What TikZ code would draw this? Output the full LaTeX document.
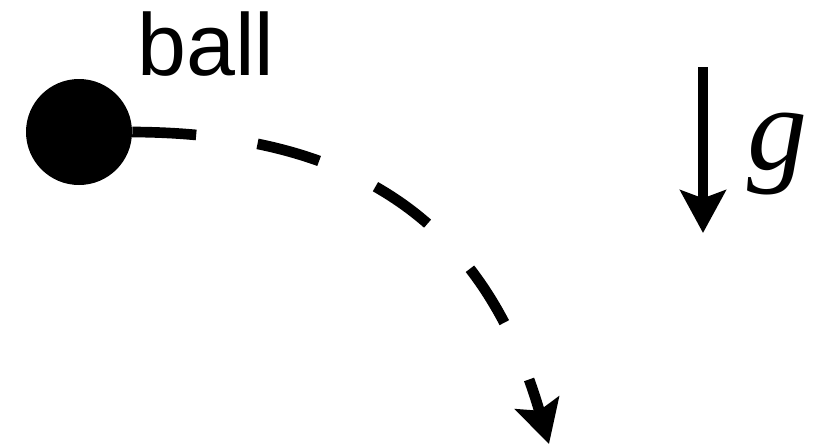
\documentclass[tikz,border=0pt]{standalone}
\usepackage{fontspec}
\setmainfont{Liberation Serif}
\newfontfamily\arialfont{Liberation Sans}
\usetikzlibrary{arrows.meta}
\begin{document}
\begin{tikzpicture}[x=0.75pt,y=-0.75pt,
  thick line/.style={line width=8pt},
  tip/.style={-{Stealth[length=32pt,width=34pt,inset=6pt]}},
  label sans/.style={font=\arialfont\fontsize{66}{66}\selectfont, inner sep=0pt},
  label g/.style={font=\fontsize{90}{90}\selectfont\itshape, inner sep=0pt}]
\useasboundingbox (0,0) rectangle (813,446);
\node[circle, fill=black, minimum size=79.5pt, inner sep=0pt] (ball) at (79,132) {};
\node[label sans, anchor=base] (balltext) at (206,75) {ball};
\coordinate (land) at (549,444);
\draw[thick line, tip, dash pattern=on 48pt off 46.5pt]
  (ball.east) .. controls (380,133) and (491,245) .. (land);
\coordinate (gtop) at (703,67);
\coordinate (gbot) at (703,233);
\draw[thick line, tip] (gtop) -- (gbot);
\node[label g, anchor=base] (gtext) at (777,169) {g};
\end{tikzpicture}
\end{document}
